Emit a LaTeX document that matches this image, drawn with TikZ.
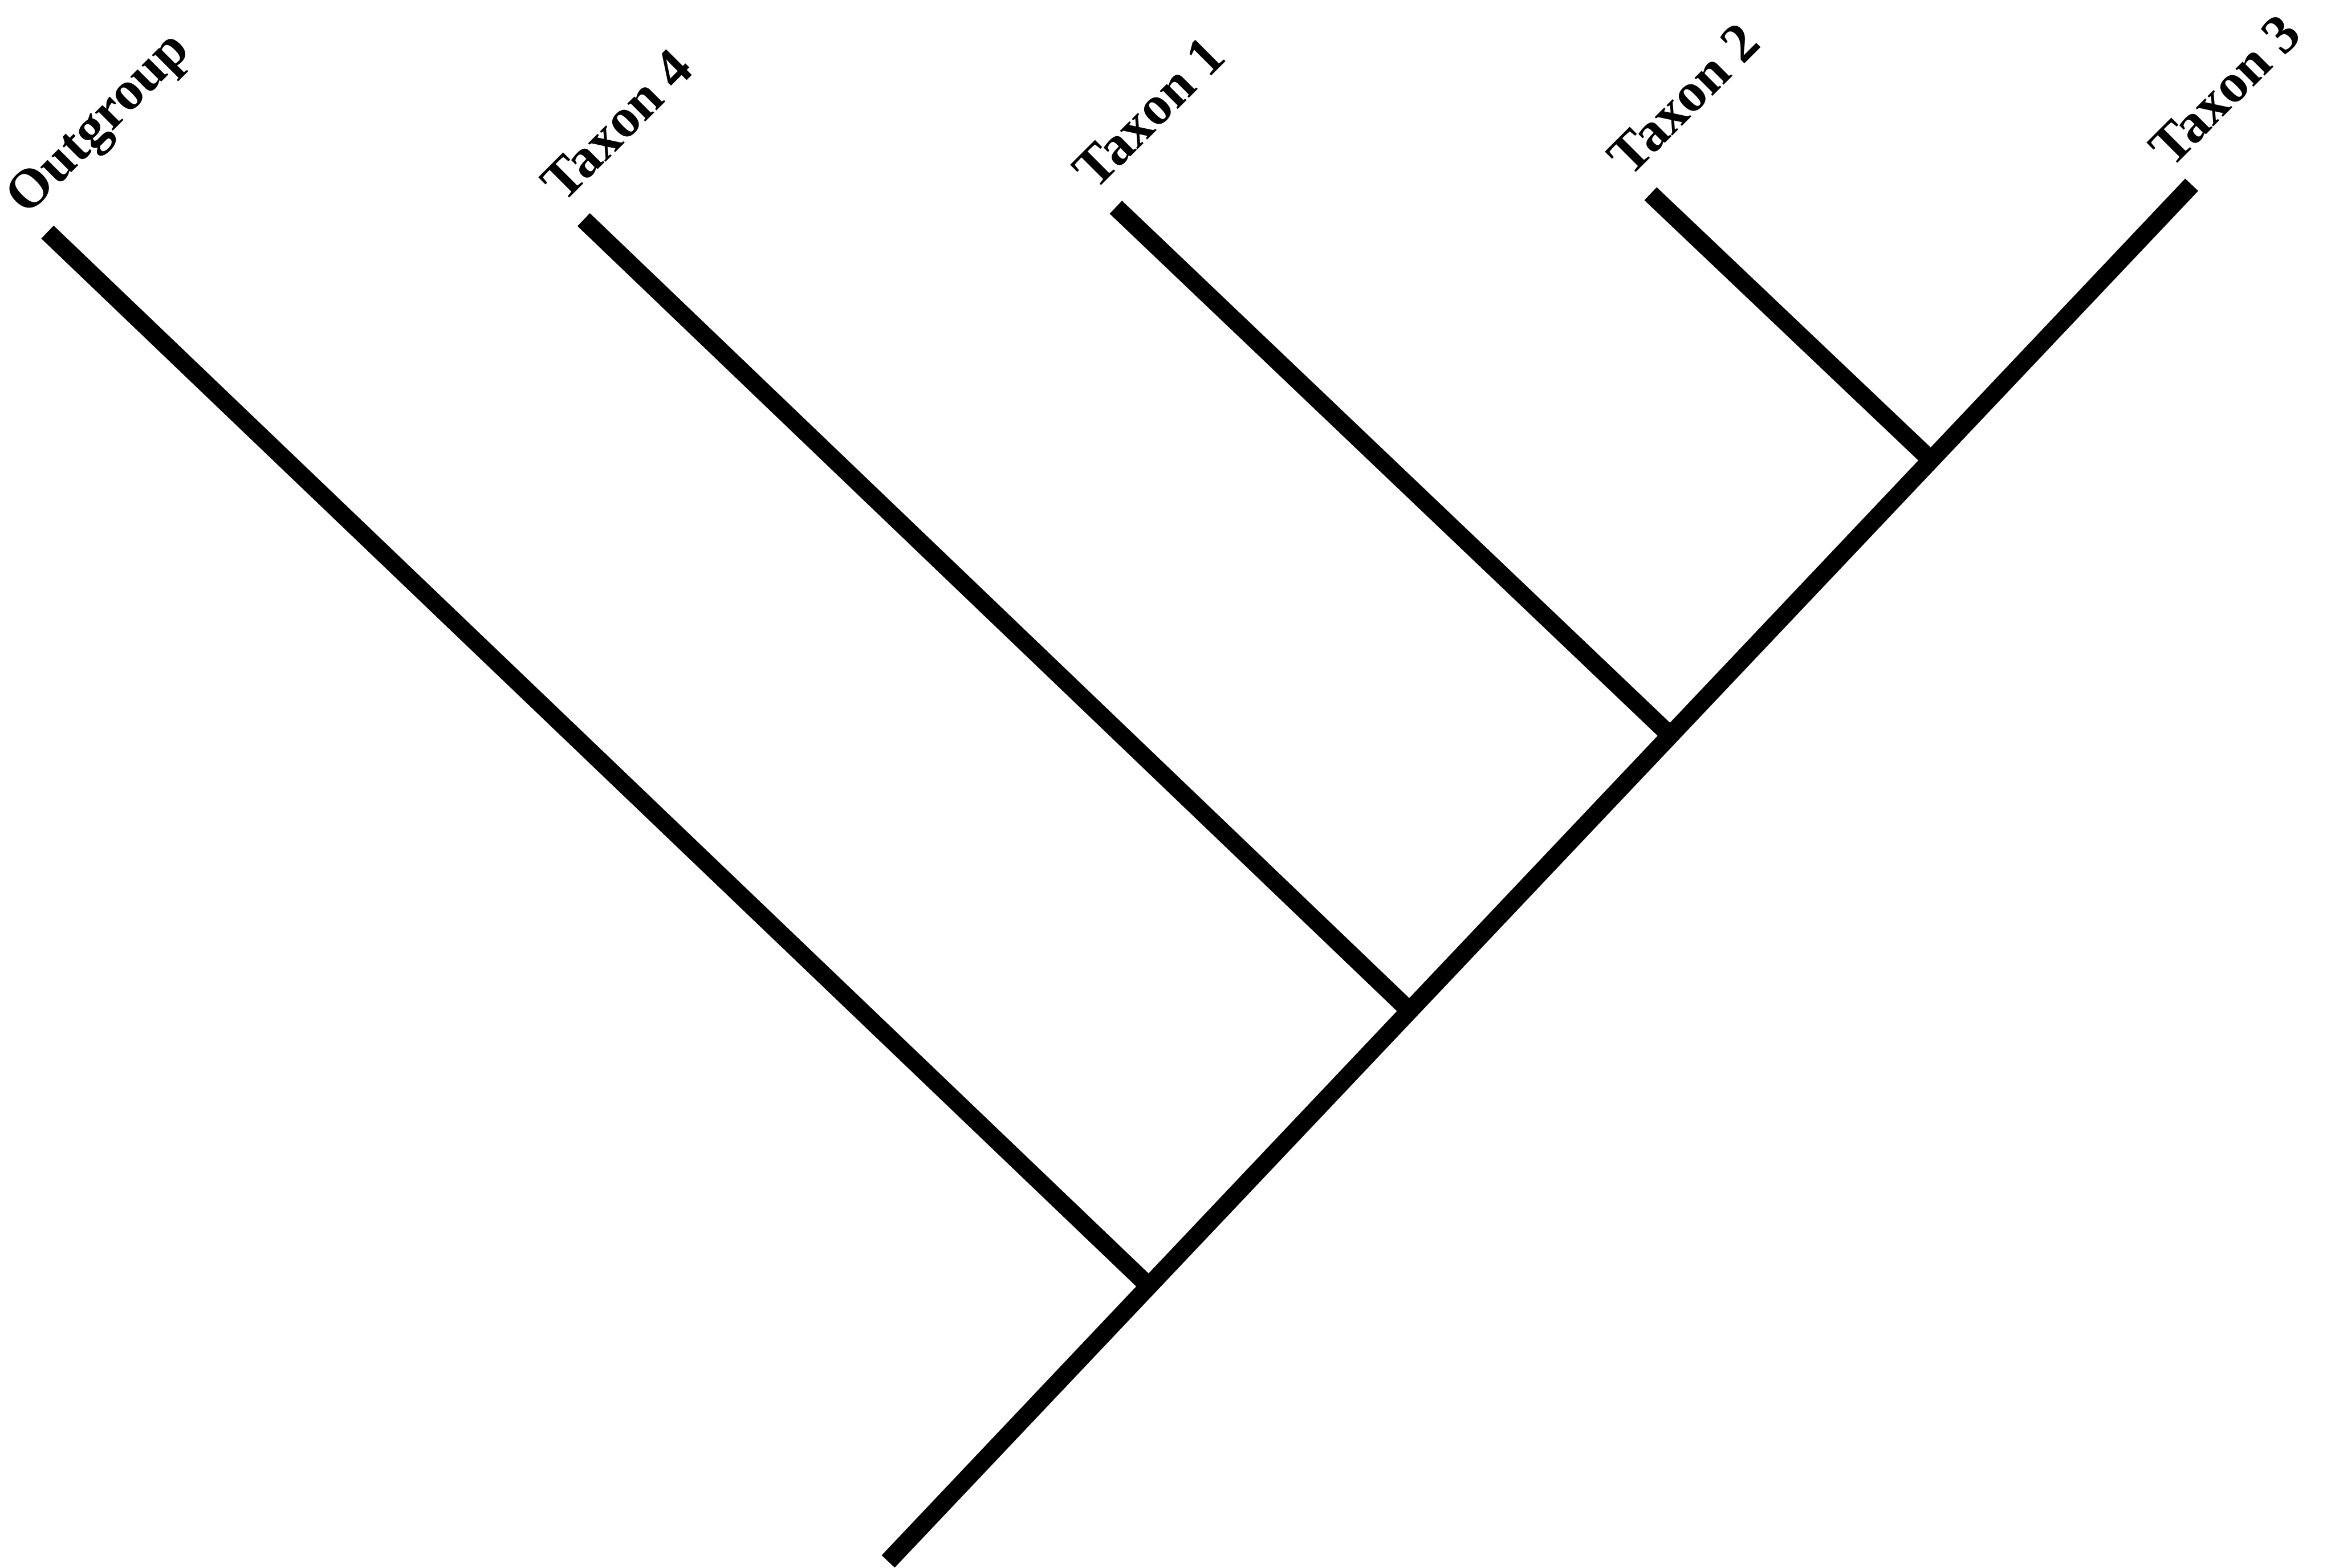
\documentclass[tikz,border=0pt]{standalone}
\usepackage{fontspec}
\setmainfont{Liberation Serif}
\usetikzlibrary{calc}

\begin{document}
\begin{tikzpicture}[
  branch/.style={line width=3.4pt, line cap=butt, black},
  taxon/.style={font=\fontsize{10.5}{12}\selectfont\bfseries, anchor=base west,
    inner sep=0pt, xshift=-0.14cm, yshift=0.1cm, rotate=45},
]
  \useasboundingbox (0,0) rectangle (15.59,10.467);

  % tips
  \coordinate (out) at (0.317,8.917);
  \coordinate (tx4) at (3.897,9.0);
  \coordinate (tx1) at (7.45,9.083);
  \coordinate (tx2) at (11.02,9.173);
  \coordinate (tx3) at (14.633,9.233);

  % stem and its splits
  \coordinate (root) at (5.93,0.04);
  \coordinate (n1) at ($(root)!0.2!(tx3)$);
  \coordinate (n2) at ($(root)!0.4!(tx3)$);
  \coordinate (n3) at ($(root)!0.6!(tx3)$);
  \coordinate (n4) at ($(root)!0.8!(tx3)$);

  \draw[branch] (root) -- (tx3);
  \draw[branch] (n1) -- (out);
  \draw[branch] (n2) -- (tx4);
  \draw[branch] (n3) -- (tx1);
  \draw[branch] (n4) -- (tx2);

  \node[taxon] (lout) at (out) {Outgroup};
  \node[taxon] (ltx4) at (tx4) {Taxon 4};
  \node[taxon] (ltx1) at (tx1) {Taxon 1};
  \node[taxon] (ltx2) at (tx2) {Taxon 2};
  \node[taxon] (ltx3) at (tx3) {Taxon 3};
\end{tikzpicture}
\end{document}
